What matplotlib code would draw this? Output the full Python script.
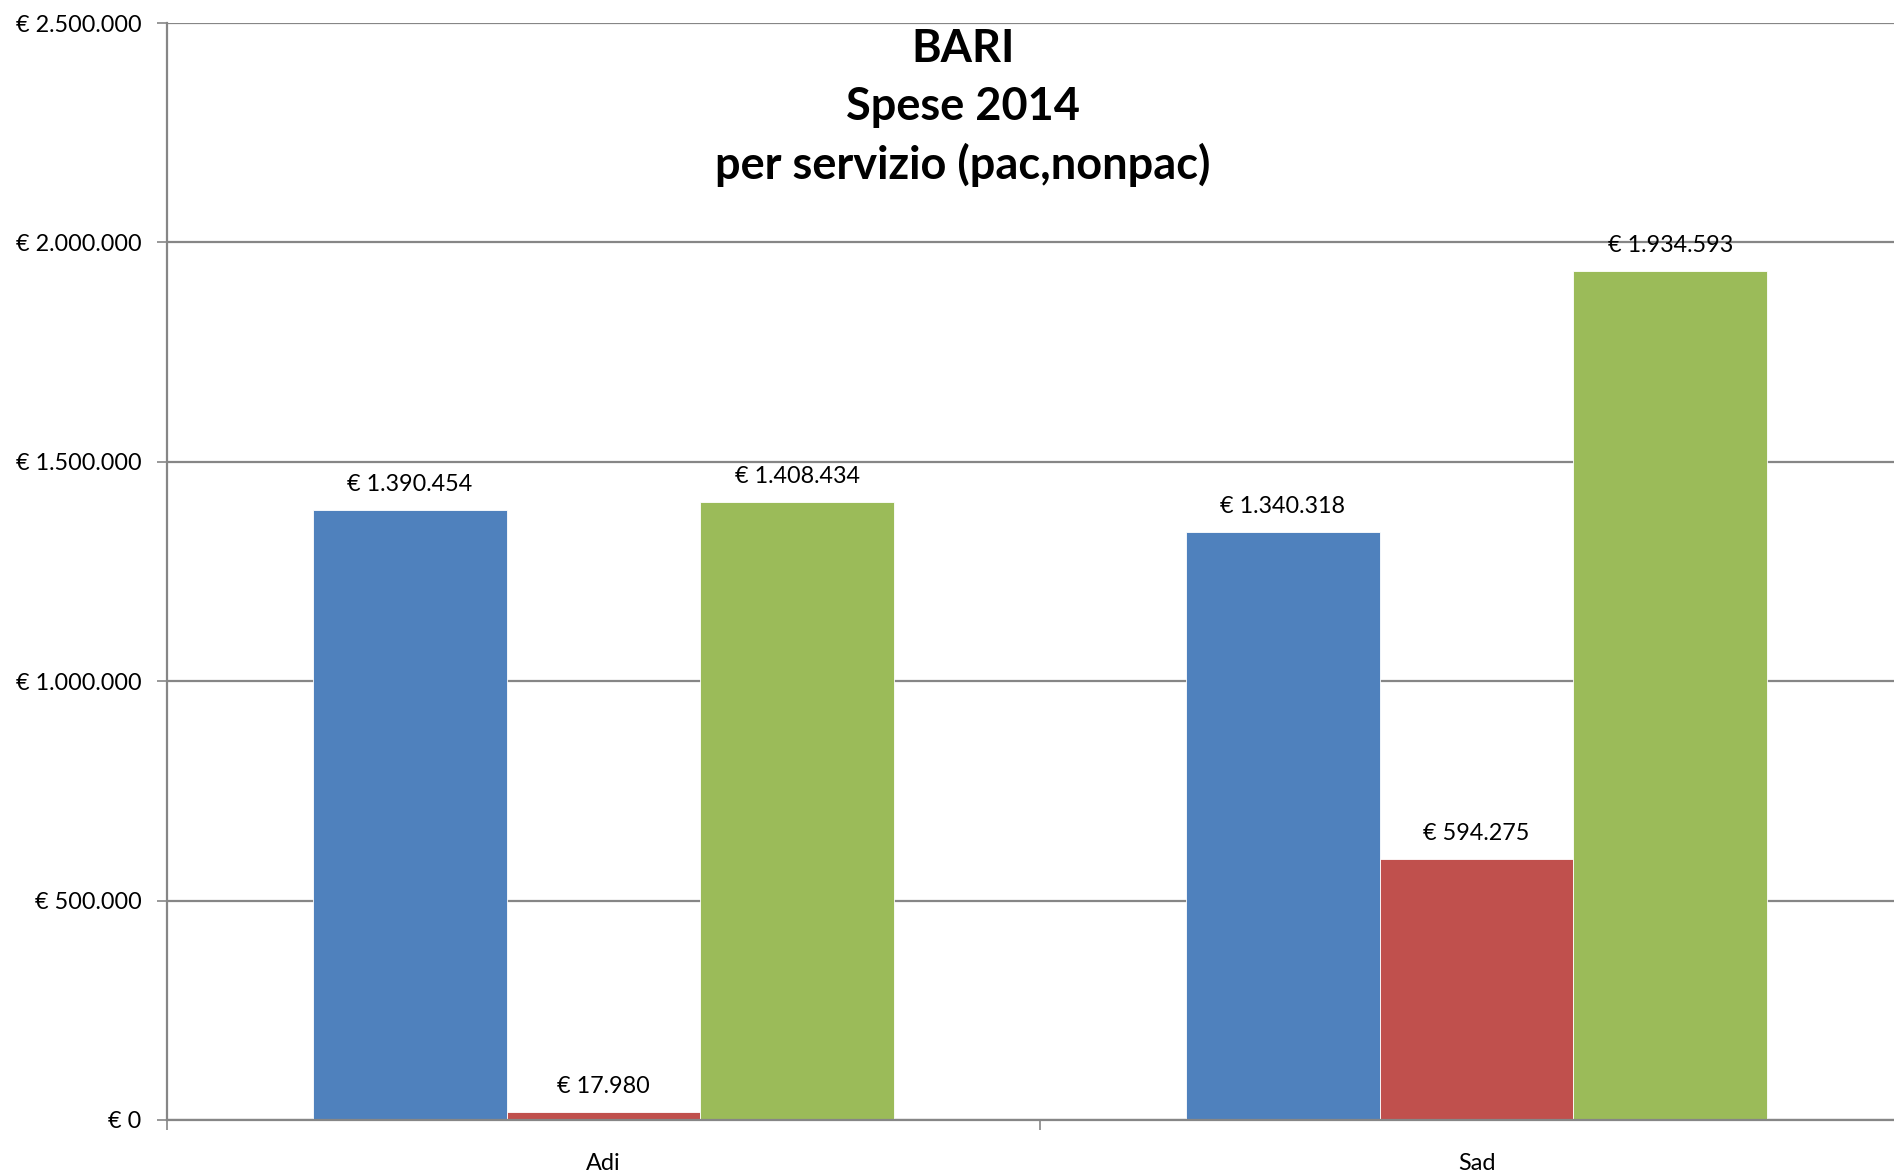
import matplotlib.pyplot as plt
import numpy as np
from matplotlib.ticker import FuncFormatter, FixedLocator

categories = ["Adi", "Sad"]
series_names = ["pac", "nonpac", "totale"]
pac = [1390454, 1340318]
nonpac = [17980, 594275]
totale = [1408434, 1934593]
colors = ["#4F81BD", "#C0504D", "#9BBB59"]
title_lines = ["BARI", "Spese 2014", "per servizio (pac,nonpac)"]

plt.rcParams["font.family"] = ["Lato", "DejaVu Sans"]


def euro(v, pos=None):
    return "€ " + f"{int(round(v)):,}".replace(",", ".")


fig = plt.figure(figsize=(18.94, 11.75), dpi=100)
ax = fig.add_axes([167 / 1894, 1 - 1120 / 1175, (1913 - 167) / 1894, (1120 - 23) / 1175])

x = np.arange(len(categories))
w = 0.2222
for i, (vals, name) in enumerate(zip([pac, nonpac, totale], series_names)):
    pos = x + (i - 1) * w
    ax.bar(pos, vals, width=w, color=colors[i], label=name, zorder=3,
           edgecolor="white", linewidth=0.6)
    for px, v in zip(pos, vals):
        ax.annotate(euro(v), (px, v), xytext=(0, 18.3), textcoords="offset points",
                    ha="center", va="center", fontsize=16.8, zorder=4)

ax.set_xlim(-0.5, 1.5)
ax.set_ylim(0, 2500000)
ax.set_yticks(np.arange(0, 2500001, 500000))
ax.yaxis.set_major_formatter(FuncFormatter(euro))
ax.grid(axis="y", color="#868686", linewidth=1.6, zorder=0)

ax.set_xticks(x)
ax.set_xticklabels(categories, fontsize=16.8)
ax.xaxis.set_minor_locator(FixedLocator([-0.5, 0.5, 1.5]))
ax.tick_params(axis="x", which="major", length=0, pad=24)
ax.tick_params(axis="x", which="minor", length=7, width=1.2, color="#868686")
ax.tick_params(axis="y", labelsize=16.8, length=7, width=1.2, color="#868686", pad=11.5)

for s in ["top", "right"]:
    ax.spines[s].set_visible(False)
for s in ["left", "bottom"]:
    ax.spines[s].set_color("#868686")
    ax.spines[s].set_linewidth(1.6)
    ax.spines[s].set_zorder(5)

for k, line in enumerate(title_lines):
    fig.text(963 / 1894, 1 - (49 + 58 * k) / 1175, line, ha="center", va="center",
             fontsize=32.5, fontweight="bold")

fig.savefig("out.png", dpi=100)
